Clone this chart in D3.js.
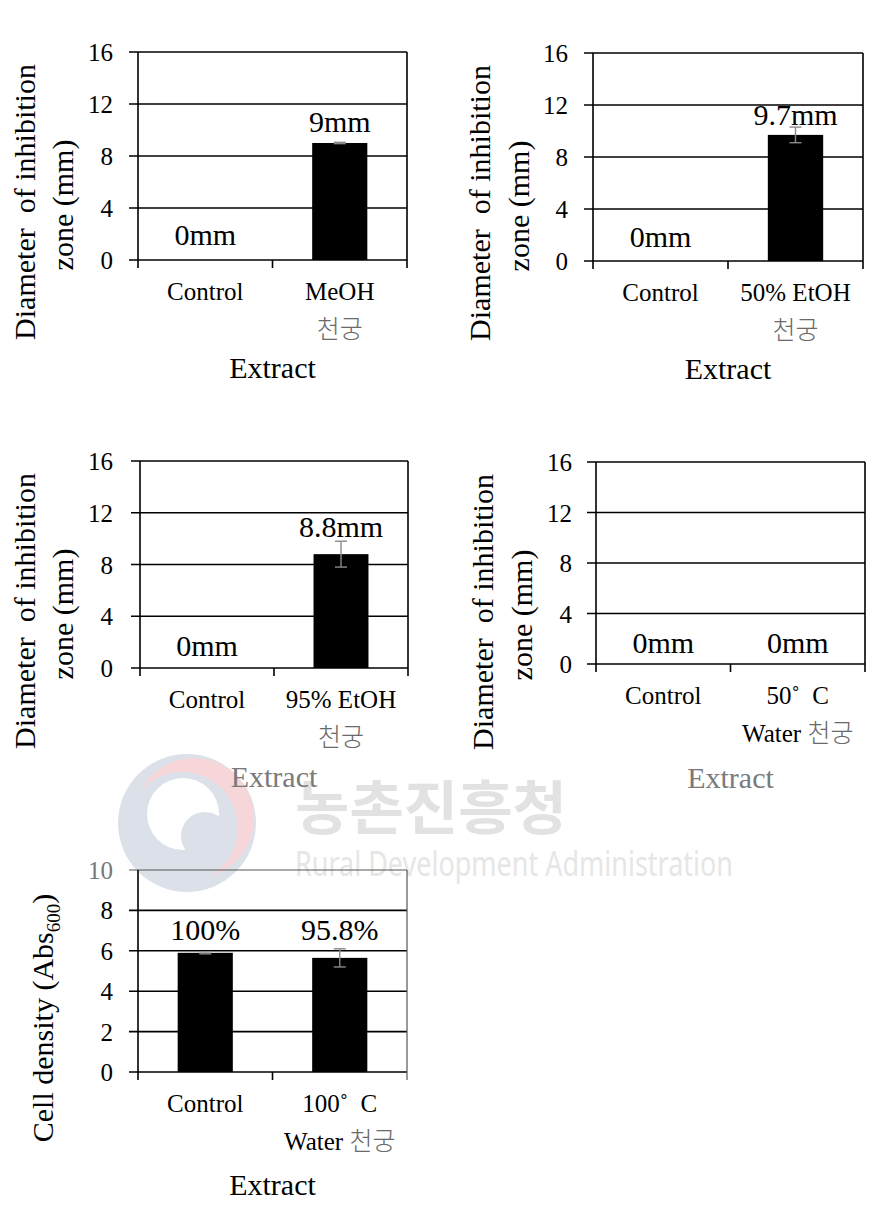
<!DOCTYPE html>
<html>
<head>
<meta charset="utf-8">
<script src="https://cdn.jsdelivr.net/npm/d3@7"></script>
<style>
  html, body { margin: 0; padding: 0; background: #fff; }
  svg { display: block; }
  .serif { font-family: "Liberation Serif", "DejaVu Serif", "Times New Roman", serif; }
  .kor { font-family: "Noto Sans CJK KR", "Noto Sans", sans-serif; }
</style>
</head>
<body>
<svg id="chart" width="894" height="1209"></svg>
<script>
// ---------------- DATA ----------------
const zoneTicks = [0, 4, 8, 12, 16];
const densityTicks = [0, 2, 4, 6, 8, 10];

const meohCategories = ["Control", "MeOH\n천궁"];
const meohValues = [0, 9.0];
const meohErrors = [0, 0.05];
const meohLabels = ["0mm", "9mm"];

const etoh50Categories = ["Control", "50% EtOH\n천궁"];
const etoh50Values = [0, 9.7];
const etoh50Errors = [0, 0.6];
const etoh50Labels = ["0mm", "9.7mm"];

const etoh95Categories = ["Control", "95% EtOH\n천궁"];
const etoh95Values = [0, 8.8];
const etoh95Errors = [0, 1.0];
const etoh95Labels = ["0mm", "8.8mm"];

const water50Categories = ["Control", "50˚  C\nWater 천궁"];
const water50Values = [0, 0];
const water50Errors = [0, 0];
const water50Labels = ["0mm", "0mm"];

const water100Categories = ["Control", "100˚  C\nWater 천궁"];
const water100Values = [5.9, 5.65];
const water100Errors = [0.05, 0.45];
const water100Labels = ["100%", "95.8%"];

const zoneAxisTitle = ["Diameter  of inhibition", "zone (mm)"];
const xAxisTitle = "Extract";

// ---------------- DRAW ----------------
const svg = d3.select("#chart");

// watermark (drawn beneath)
const wm = svg.append("g");
const lc = [187, 823];
wm.append("circle").attr("cx", lc[0]).attr("cy", lc[1]).attr("r", 69).attr("fill", "#dce1e9");
wm.append("circle").attr("cx", lc[0] + 7).attr("cy", lc[1] - 5).attr("r", 60).attr("fill", "#f7d6d9");
wm.append("circle").attr("cx", lc[0] - 5).attr("cy", lc[1] + 5).attr("r", 56).attr("fill", "#dce1e9");
wm.append("circle").attr("cx", lc[0] - 4).attr("cy", lc[1] - 9).attr("r", 36).attr("fill", "#ffffff");
wm.append("circle").attr("cx", lc[0] + 18).attr("cy", lc[1] + 13).attr("r", 24).attr("fill", "#dce1e9");
wm.append("text").attr("class", "kor").attr("x", 295).attr("y", 829).attr("font-weight", 700)
  .attr("font-size", 58).attr("fill", "#e2e2e2").attr("textLength", 272).attr("lengthAdjust", "spacingAndGlyphs")
  .text("농촌진흥청");
wm.append("text").attr("x", 295).attr("y", 876).style("font-family", "'Noto Sans', sans-serif")
  .attr("font-size", 35).attr("fill", "#e6e6e6").attr("textLength", 438).attr("lengthAdjust", "spacingAndGlyphs")
  .text("Rural Development Administration");

function addMixed(textSel, line) {
  const runs = line.match(/[\uAC00-\uD7A3]+|[^\uAC00-\uD7A3]+/g) || [];
  runs.forEach(r => {
    const isK = /[\uAC00-\uD7A3]/.test(r);
    const t = textSel.append("tspan").text(r);
    if (isK) t.attr("class", "kor").attr("fill", "#6a6a6a").attr("font-size", 25).attr("font-weight", 300);
  });
}

function sText(sel) {
  return sel.append("text").attr("class", "serif");
}

function drawPanel(cfg, categories, values, errors, labels, ticks) {
  const g = svg.append("g");
  const x = d3.scaleBand().domain(categories).range([cfg.x0, cfg.x1]).paddingInner(0).paddingOuter(0);
  const y = d3.scaleLinear().domain([0, d3.max(ticks)]).range([cfg.y0, cfg.y1]);
  const topV = d3.max(ticks);

  ticks.forEach(t => {
    const isTop = t === topV;
    g.append("line").attr("x1", cfg.x0 - 9).attr("x2", cfg.x1)
      .attr("y1", y(t)).attr("y2", y(t))
      .attr("stroke", isTop ? cfg.borderColor : "#000")
      .attr("stroke-width", isTop ? cfg.borderWidth : 1.6);
    sText(g).attr("x", cfg.tickRight).attr("y", y(t)).attr("dy", "0.36em")
      .attr("text-anchor", "end").attr("font-size", 25)
      .attr("fill", (isTop && cfg.topTickColor) ? cfg.topTickColor : "#000")
      .text(t);
  });
  g.append("line").attr("x1", cfg.x0).attr("x2", cfg.x0).attr("y1", y(topV)).attr("y2", cfg.y0 + 8)
    .attr("stroke", "#000").attr("stroke-width", 1.6);
  g.append("line").attr("x1", cfg.x1).attr("x2", cfg.x1).attr("y1", y(topV)).attr("y2", cfg.y0 + 8)
    .attr("stroke", cfg.borderColor).attr("stroke-width", cfg.borderWidth);
  categories.slice(1).forEach(c => {
    g.append("line").attr("x1", x(c)).attr("x2", x(c)).attr("y1", cfg.y0).attr("y2", cfg.y0 + 8)
      .attr("stroke", "#000").attr("stroke-width", 1.6);
  });
  const bw = x.bandwidth() * 0.41;
  categories.forEach((c, i) => {
    const cx = x(c) + x.bandwidth() / 2;
    if (values[i] > 0) {
      g.append("rect").attr("x", cx - bw / 2).attr("width", bw)
        .attr("y", y(values[i])).attr("height", y(0) - y(values[i])).attr("fill", "#000");
    }
    if (errors[i] > 0) {
      const e1 = y(values[i] + errors[i]), e0 = y(values[i] - errors[i]);
      g.append("line").attr("x1", cx).attr("x2", cx).attr("y1", e1).attr("y2", e0)
        .attr("stroke", "#8a8a8a").attr("stroke-width", 1.4);
      [e1, e0].forEach(ey => g.append("line").attr("x1", cx - 6).attr("x2", cx + 6)
        .attr("y1", ey).attr("y2", ey).attr("stroke", "#8a8a8a").attr("stroke-width", 1.4));
    }
    const ly = values[i] > 0 ? y(d3.max(values)) - cfg.labelGap : y(0) - cfg.zeroGap;
    sText(g).attr("x", cx).attr("y", ly).attr("text-anchor", "middle")
      .attr("font-size", 30).attr("fill", "#000").text(labels[i]);
    c.split("\n").forEach((line, li) => {
      const t = sText(g).attr("x", cx).attr("y", cfg.y0 + 40 + li * 38)
        .attr("text-anchor", "middle").attr("font-size", 25)
        .attr("fill", "#000").style("white-space", "pre");
      addMixed(t, line);
    });
  });
  sText(g).attr("x", (cfg.x0 + cfg.x1) / 2).attr("y", cfg.y0 + cfg.titleGap)
    .attr("text-anchor", "middle").attr("font-size", 30)
    .attr("fill", cfg.titleColor || "#000").text(xAxisTitle);

  if (cfg.yTitle === "zone") {
    zoneAxisTitle.forEach((line, li) => {
      sText(g).attr("transform", `translate(${cfg.yLabelX[li]},${cfg.yLabelCy[li]}) rotate(-90)`)
        .attr("text-anchor", "middle").attr("font-size", 30)
        .attr("fill", "#000").style("white-space", "pre").text(line);
    });
  } else {
    const t = sText(g).attr("transform", `translate(${cfg.yLabelX[0]},${cfg.yLabelCy[0]}) rotate(-90)`)
      .attr("text-anchor", "middle").attr("font-size", 30).attr("fill", "#000");
    t.append("tspan").text("Cell density (Abs");
    t.append("tspan").attr("font-size", 19).attr("dy", 7).text("600");
    t.append("tspan").attr("dy", -7).text(")");
  }
}

drawPanel({x0: 138, x1: 407, y0: 260, y1: 52, tickRight: 113, labelGap: 11, zeroGap: 15, titleGap: 118,
  borderColor: "#000", borderWidth: 1.6, yTitle: "zone", yLabelX: [35, 73], yLabelCy: [202, 205]},
  meohCategories, meohValues, meohErrors, meohLabels, zoneTicks);

drawPanel({x0: 593, x1: 863, y0: 261, y1: 53, tickRight: 568, labelGap: 10, zeroGap: 14, titleGap: 118,
  borderColor: "#000", borderWidth: 1.6, yTitle: "zone", yLabelX: [490, 529], yLabelCy: [203, 206]},
  etoh50Categories, etoh50Values, etoh50Errors, etoh50Labels, zoneTicks);

drawPanel({x0: 140, x1: 408, y0: 668, y1: 461, tickRight: 113, labelGap: 17, zeroGap: 12, titleGap: 119,
  borderColor: "#000", borderWidth: 1.6, titleColor: "#7a7a7a", yTitle: "zone", yLabelX: [35, 73], yLabelCy: [611, 614]},
  etoh95Categories, etoh95Values, etoh95Errors, etoh95Labels, zoneTicks);

drawPanel({x0: 596, x1: 865, y0: 664, y1: 462, tickRight: 572, labelGap: 12, zeroGap: 11, titleGap: 124,
  borderColor: "#000", borderWidth: 1.6, titleColor: "#7a7a7a", yTitle: "zone", yLabelX: [493, 532], yLabelCy: [612, 615]},
  water50Categories, water50Values, water50Errors, water50Labels, zoneTicks);

drawPanel({x0: 138, x1: 407, y0: 1072, y1: 870, tickRight: 113, labelGap: 13, zeroGap: 13, titleGap: 123,
  borderColor: "#555", borderWidth: 1.2, topTickColor: "#777", yTitle: "density", yLabelX: [53], yLabelCy: [1018]},
  water100Categories, water100Values, water100Errors, water100Labels, densityTicks);
</script>
</body>
</html>
